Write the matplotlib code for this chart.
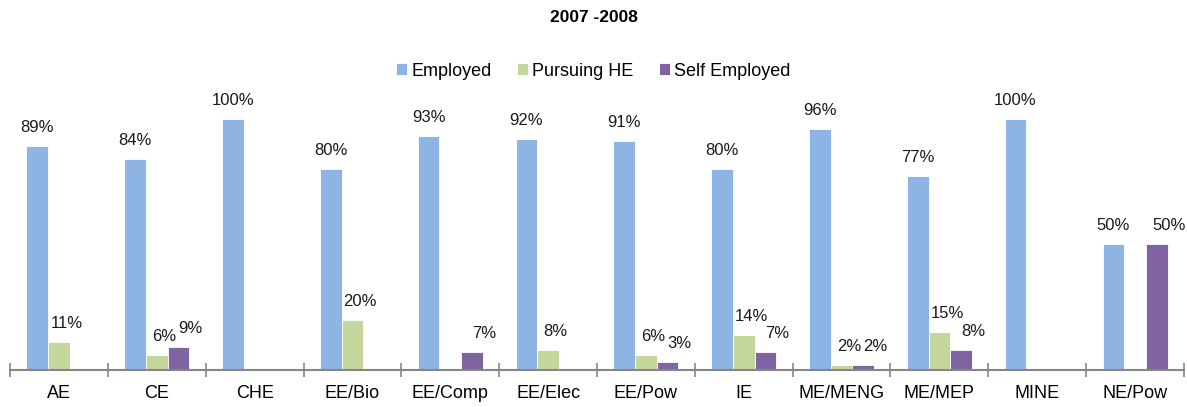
import matplotlib
matplotlib.use("Agg")
import matplotlib.pyplot as plt
import numpy as np

plt.rcParams['font.family'] = ['Liberation Sans', 'DejaVu Sans']

categories = ['AE', 'CE', 'CHE', 'EE/Bio', 'EE/Comp', 'EE/Elec', 'EE/Pow',
              'IE', 'ME/MENG', 'ME/MEP', 'MINE', 'NE/Pow']
employed = [89, 84, 100, 80, 93, 92, 91, 80, 96, 77, 100, 50]
pursuing_he = [11, 6, 0, 20, 0, 8, 6, 14, 2, 15, 0, 0]
self_employed = [0, 9, 0, 0, 7, 0, 3, 7, 2, 8, 0, 50]

series = [('Employed', employed, '#8EB4E3'),
          ('Pursuing HE', pursuing_he, '#C3D69B'),
          ('Self Employed', self_employed, '#8064A2')]
label_dx = [0, 5.5, 8.5]  # points, labels sit a bit right of the small bars

fig = plt.figure(figsize=(11.87, 4.07), dpi=100)
ax = fig.add_axes([10 / 1187, 37 / 407, 1174 / 1187, 289 / 407])

x = np.arange(len(categories))
w = 0.222
for i, (name, vals, col) in enumerate(series):
    pos = x + (i - 1) * w
    vals = np.array(vals)
    mask = vals > 0
    ax.bar(pos[mask], vals[mask], w, color=col, label=name,
           edgecolor='white', linewidth=0.6)
    for p, v in zip(pos[mask], vals[mask]):
        ax.annotate(f'{v}%', (p, v), xytext=(label_dx[i], 8), textcoords='offset points',
                    ha='center', va='bottom', fontsize=12, color='#1a1a1a')

ax.set_xlim(-0.5, len(categories) - 0.5)
ax.set_ylim(0, 115)
ax.set_yticks([])
for s in ['top', 'right', 'left']:
    ax.spines[s].set_visible(False)
ax.spines['bottom'].set_color('#868686')
ax.spines['bottom'].set_linewidth(1.5)

ax.set_xticks(np.arange(len(categories) + 1) - 0.5, minor=False)
ax.set_xticklabels([])
ax.tick_params(axis='x', which='major', direction='inout', length=10,
               width=1.2, color='#868686')
ax.set_xticks(x, minor=True)
ax.set_xticklabels(categories, minor=True, fontsize=13)
ax.tick_params(axis='x', which='minor', length=0, pad=11)

fig.text(0.5, 1 - 17 / 407, '2007 -2008', ha='center', va='center',
         fontsize=12.5, fontweight='bold')
fig.legend(loc='center', bbox_to_anchor=(0.5, 1 - 71 / 407), ncol=3,
           frameon=False, fontsize=13, handlelength=0.6, handleheight=0.6,
           handletextpad=0.25, columnspacing=1.4)

fig.savefig('out.png', dpi=100)
